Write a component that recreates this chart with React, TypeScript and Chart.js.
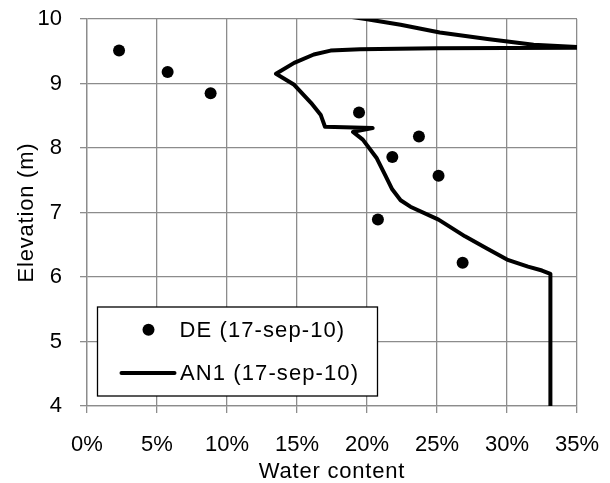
import React, { useEffect, useRef } from "react";
import { Chart, registerables } from "chart.js";

Chart.register(...registerables);

// Measured points "DE (17-sep-10)"
const deWater = [0.0229, 0.0576, 0.0883, 0.1943, 0.2371, 0.2181, 0.2511, 0.2078, 0.2683];
const deElev = [9.51, 9.18, 8.85, 8.55, 8.18, 7.86, 7.57, 6.89, 6.22];

// Computed profile "AN1 (17-sep-10)" (in drawing order)
const an1Water = [
  0.331, 0.331, 0.325, 0.315, 0.300, 0.285, 0.270, 0.2511, 0.231, 0.224, 0.218, 0.213, 0.207,
  0.197, 0.190, 0.204, 0.170, 0.167, 0.160, 0.148, 0.135, 0.148, 0.162, 0.174, 0.195, 0.250,
  0.360, 0.319, 0.286, 0.252, 0.224, 0.199, 0.180,
];
const an1Elev = [
  3.0, 6.05, 6.10, 6.16, 6.27, 6.45, 6.63, 6.89, 7.09, 7.19, 7.36, 7.58, 7.84,
  8.13, 8.25, 8.31, 8.33, 8.51, 8.70, 8.98, 9.15, 9.32, 9.45, 9.51, 9.53, 9.545,
  9.555, 9.60, 9.69, 9.79, 9.91, 10.0, 10.06,
];

const seriesLabels = ["DE (17-sep-10)", "AN1 (17-sep-10)"];
const xTicks = [0, 0.05, 0.1, 0.15, 0.2, 0.25, 0.3, 0.35];
const yTicks = [4, 5, 6, 7, 8, 9, 10];
const xTitle = "Water content";
const yTitle = "Elevation (m)";

const FONT_FAMILY = '"Liberation Sans", Arial, sans-serif';
const GRID = "#8c8c8c";

const clearPadding = (s: any) => {
  s.paddingLeft = 0;
  s.paddingRight = 0;
  s.paddingTop = 0;
  s.paddingBottom = 0;
};

const boxLegend = {
  id: "boxLegend",
  afterDraw(chart: any) {
    const { ctx, chartArea } = chart;
    ctx.save();
    ctx.fillStyle = "#000000";
    ctx.font = `22px ${FONT_FAMILY}`;
    ctx.textBaseline = "middle";
    ctx.textAlign = "center";
    ctx.letterSpacing = "0.8px";
    // axis titles
    ctx.fillText(xTitle, (chartArea.left + chartArea.right) / 2, 472);
    ctx.save();
    ctx.translate(27, (chartArea.top + chartArea.bottom) / 2);
    ctx.rotate(-Math.PI / 2);
    ctx.fillText(yTitle, 0, 0);
    ctx.restore();

    // legend box
    const bx = chartArea.left + 10.5;
    const by = chartArea.top + 288;
    const bw = 280;
    const bh = 89;
    ctx.fillStyle = "#ffffff";
    ctx.fillRect(bx, by, bw, bh);
    ctx.strokeStyle = "#000000";
    ctx.lineWidth = 1.3;
    ctx.strokeRect(bx, by, bw, bh);
    ctx.fillStyle = "#000000";
    ctx.beginPath();
    ctx.arc(bx + 51, by + 22.7, 6, 0, Math.PI * 2);
    ctx.fill();
    ctx.letterSpacing = "1.1px";
    ctx.textAlign = "left";
    ctx.fillText(chart.data.datasets[0].label, bx + 82, by + 23.5);
    ctx.lineWidth = 4;
    ctx.lineCap = "round";
    ctx.beginPath();
    ctx.moveTo(bx + 24, by + 66);
    ctx.lineTo(bx + 77, by + 66);
    ctx.stroke();
    ctx.fillText(chart.data.datasets[1].label, bx + 82.5, by + 66.5);
    ctx.letterSpacing = "0px";
    ctx.restore();
  },
};

export default function App() {
  const ref = useRef<HTMLCanvasElement | null>(null);

  useEffect(() => {
    if (!ref.current) return;
    const chart = new Chart(ref.current, {
      type: "scatter",
      data: {
        datasets: [
          {
            label: seriesLabels[0],
            data: deWater.map((x, i) => ({ x, y: deElev[i] })),
            backgroundColor: "#000000",
            borderColor: "#000000",
            pointRadius: 6,
            pointBorderWidth: 0,
            showLine: false,
          },
          {
            label: seriesLabels[1],
            data: an1Water.map((x, i) => ({ x, y: an1Elev[i] })),
            borderColor: "#000000",
            backgroundColor: "#000000",
            borderWidth: 4,
            pointRadius: 0,
            showLine: true,
            tension: 0,
            borderJoinStyle: "round",
            borderCapStyle: "butt",
          },
        ],
      },
      options: {
        animation: false,
        responsive: true,
        maintainAspectRatio: false,
        layout: { autoPadding: false, padding: { top: 19, right: 33, left: 0, bottom: 0 } },
        plugins: {
          legend: { display: false },
          tooltip: { enabled: false },
        },
        scales: {
          x: {
            type: "linear",
            min: 0,
            max: 0.35,
            afterBuildTicks: (s: any) => {
              s.ticks = xTicks.map((value) => ({ value }));
            },
            afterFit: (s: any) => {
              s.height = 77;
              clearPadding(s);
            },
            ticks: {
              color: "#000000",
              font: { family: FONT_FAMILY, size: 22 },
              padding: 19,
              maxRotation: 0,
              callback: (v: any) => `${Math.round(Number(v) * 100)}%`,
            },
            grid: { color: GRID, lineWidth: 1.3, tickLength: 7, tickColor: GRID },
            border: { color: GRID, width: 1.3 },
            title: { display: false },
          },
          y: {
            type: "linear",
            min: 4,
            max: 10,
            afterBuildTicks: (s: any) => {
              s.ticks = yTicks.map((value) => ({ value }));
            },
            afterFit: (s: any) => {
              s.width = 87;
              clearPadding(s);
            },
            ticks: {
              color: "#000000",
              font: { family: FONT_FAMILY, size: 22 },
              padding: 18,
              callback: (v: any) => `${v}`,
            },
            grid: { color: GRID, lineWidth: 1.3, tickLength: 7, tickColor: GRID },
            border: { color: GRID, width: 1.3 },
            title: { display: false },
          },
        },
      },
      plugins: [boxLegend],
    });
    return () => chart.destroy();
  }, []);

  return (
    <div style={{ position: "absolute", left: 0, top: 0, width: 610, height: 483 }}>
      <canvas ref={ref} />
    </div>
  );
}
